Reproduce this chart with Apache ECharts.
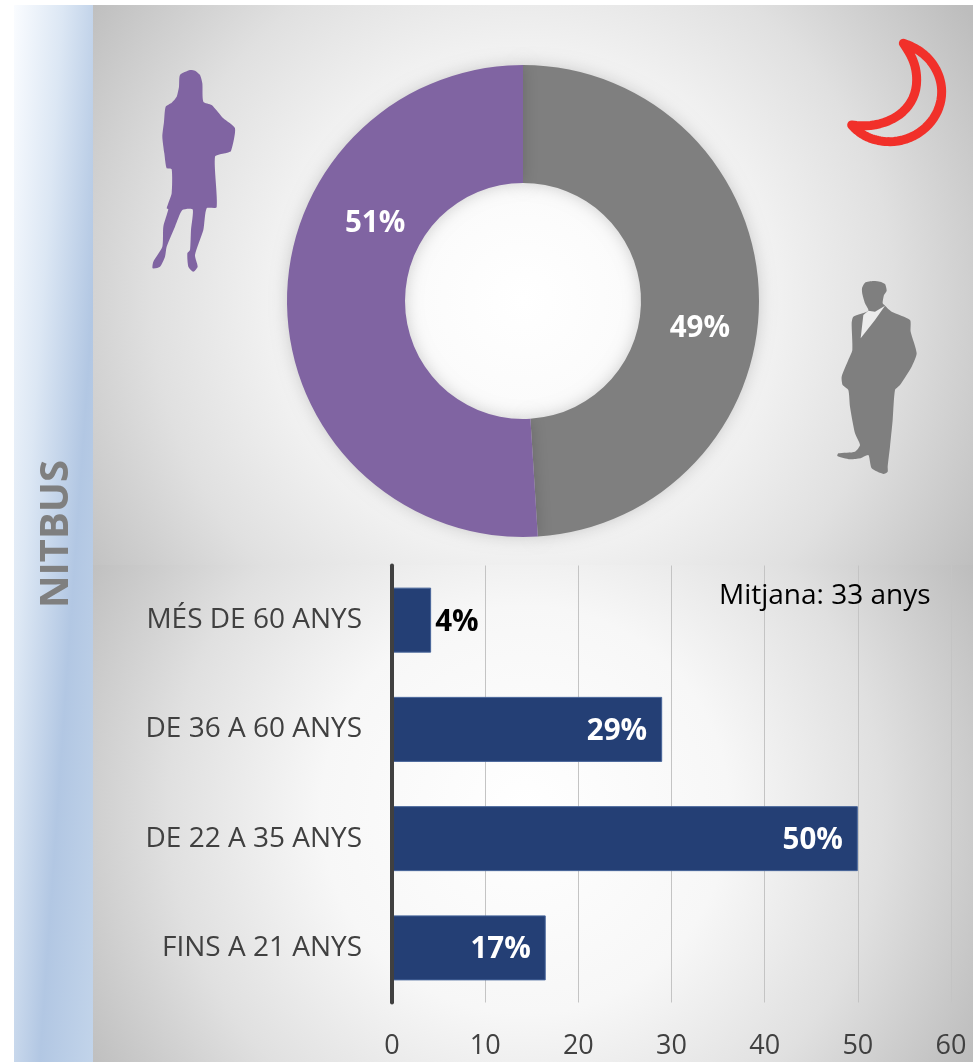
<!DOCTYPE html>
<html>
<head>
<meta charset="utf-8">
<title>NITBUS</title>
<script src="https://cdn.jsdelivr.net/npm/echarts@6/dist/echarts.min.js"></script>
<style>
html,body{margin:0;padding:0;background:#fff;}
#main{width:973px;height:1062px;}
</style>
</head>
<body>
<div id="main"></div>
<script>
var genderNames=['Homes','Dones'];
var genderValues=[49,51];
var genderColors=['#7f7f7f','#8064a2'];

var ageCategories=['MÉS DE 60 ANYS','DE 36 A 60 ANYS','DE 22 A 35 ANYS','FINS A 21 ANYS'];
var ageValues=[4.2,29,50,16.5];
var ageLabels=['4%','29%','50%','17%'];

var FONT='"Open Sans"';

//siluetes, punts llegits del zoom (3x) i passats a pixels
var WOMAN_PTS=[[180,60],[150,75],[147,110],[140,140],[125,158],[107,170],[102,215],[97,260],[103,310],[110,355],[125,358],[125,430],[110,475],[115,478],[100,530],[97,590],[70,635],[68,655],[90,650],[105,620],[110,590],[135,530],[157,480],[188,478],[183,540],[180,600],[172,610],[175,650],[190,665],[203,650],[195,615],[220,540],[230,475],[260,472],[255,320],[285,310],[303,303],[315,235],[280,205],[245,165],[220,155],[217,100],[210,75],[195,62]];
var MAN_PTS=[[160,33],[135,38],[126,55],[127,72],[135,100],[145,122],[100,140],[95,160],[97,240],[85,270],[65,320],[68,345],[85,360],[90,410],[105,490],[120,525],[105,545],[55,550],[52,558],[90,568],[120,565],[145,555],[155,595],[190,612],[203,605],[203,590],[210,530],[218,450],[225,360],[240,345],[275,290],[290,250],[272,185],[270,150],[215,125],[195,107],[188,100],[192,75],[200,62],[195,42],[180,35]];
var SHIRT_PTS=[[130,135],[122,205],[165,150],[195,107],[165,125],[145,122]];
//lluna: trams de bezier (inici, control, control, final)
var MOON_CURVES=[
    [[250,70],[330,95],[365,160],[365,215]],
    [[365,215],[365,300],[290,365],[210,365]],
    [[210,365],[160,365],[120,345],[95,315]],
    [[95,315],[190,330],[290,280],[290,180]],
    [[290,180],[290,130],[270,100],[250,70]]
];

function toPx(pts,ox,oy){
    var out=[];
    for(var i=0;i<pts.length;i++){
        out.push([pts[i][0]/3+ox,pts[i][1]/3+oy]);
    }
    return out;
}

function curvePts(curves){
    var out=[];
    for(var c=0;c<curves.length;c++){
        var p=curves[c];
        for(var k=0;k<20;k++){
            var t=k/20,u=1-t;
            out.push([
                u*u*u*p[0][0]+3*u*u*t*p[1][0]+3*u*t*t*p[2][0]+t*t*t*p[3][0],
                u*u*u*p[0][1]+3*u*u*t*p[1][1]+3*u*t*t*p[2][1]+t*t*t*p[3][1]
            ]);
        }
    }
    return out;
}

var panelStops=[{offset:0,color:'#ffffff'},{offset:0.4,color:'#f7f7f7'},{offset:0.7,color:'#e0e0e0'},{offset:1,color:'#bdbdbd'}];

var pieData=[];
for(var i=0;i<genderValues.length;i++){
    pieData.push({
        name:genderNames[i],
        value:genderValues[i],
        itemStyle:{color:genderColors[i]},
        label:{offset:i==0?[-3,33]:[32,-83]}
    });
}

var barData=[];
for(var i=0;i<ageValues.length;i++){
    var small=ageValues[i]<10;
    barData.push({
        value:ageValues[i],
        label:{
            position:small?'right':'insideRight',
            distance:small?4:15,
            offset:[0,2],
            color:small?'#000000':'#ffffff'
        }
    });
}

var chart=echarts.init(document.getElementById('main'),null,{renderer:'canvas'});
var option={
    animation:false,
    textStyle:{fontFamily:FONT},
    grid:{left:392,right:22,top:565.5,bottom:59.5,containLabel:false},
    xAxis:{
        type:'value',
        position:'bottom',
        min:0,
        max:60,
        interval:10,
        axisLine:{show:false},
        axisTick:{show:false},
        axisLabel:{color:'#404040',fontSize:27,fontFamily:FONT,margin:30,hideOverlap:false},
        splitLine:{show:true,lineStyle:{color:'#c4c4c4',width:1}}
    },
    yAxis:{
        type:'category',
        inverse:true,
        z:5,
        data:ageCategories,
        axisLine:{show:true,lineStyle:{color:'#404040',width:4}},
        axisTick:{show:false},
        axisLabel:{color:'#404040',fontSize:28,fontFamily:FONT,margin:30,padding:[6,0,0,0]}
    },
    series:[
        {
            type:'pie',
            center:[523,301],
            radius:[118,236],
            startAngle:90,
            avoidLabelOverlap:false,
            silent:true,
            itemStyle:{shadowBlur:16,shadowColor:'rgba(0,0,0,0.18)'},
            label:{
                show:true,
                position:'inside',
                formatter:'{c}%',
                color:'#ffffff',
                fontSize:29.5,
                fontWeight:'bold',
                fontFamily:FONT
            },
            labelLine:{show:false},
            data:pieData
        },
        {
            type:'bar',
            barWidth:65,
            silent:true,
            itemStyle:{color:'#243f75',borderColor:'#47659a',borderWidth:1},
            label:{
                show:true,
                fontSize:29.5,
                fontWeight:'bold',
                fontFamily:FONT,
                formatter:function(p){return ageLabels[p.dataIndex];}
            },
            data:barData
        }
    ],
    graphic:[
        //fons
        {type:'rect',z:-10,shape:{x:14,y:5,width:79,height:1057},style:{fill:new echarts.graphic.LinearGradient(14,5,166.7,15.7,[
            {offset:0,color:'#fafcff'},{offset:0.32,color:'#dce7f4'},{offset:0.65,color:'#b2c7e3'},{offset:1,color:'#c2d4ea'}
        ],true)}},
        {type:'rect',z:-10,shape:{x:93,y:5,width:880,height:560},style:{fill:new echarts.graphic.RadialGradient(523,300,530,panelStops,true)}},
        {type:'rect',z:-10,shape:{x:93,y:565,width:880,height:497},style:{fill:new echarts.graphic.RadialGradient(525,810,510,panelStops,true)}},
        //siluetes i lluna
        {type:'polygon',z:-5,shape:{points:toPx(WOMAN_PTS,130,50),smooth:0.2},style:{fill:'#8064a2'}},
        {type:'polygon',z:-5,shape:{points:toPx(MAN_PTS,820,270),smooth:0.2},style:{fill:'#7f7f7f'}},
        {type:'polygon',z:-4,shape:{points:toPx(SHIRT_PTS,820,270)},style:{fill:'#ececec'}},
        {type:'polygon',z:-5,shape:{points:toPx(curvePts(MOON_CURVES),820,20)},style:{fill:'none',stroke:'#f1302a',lineWidth:9,lineJoin:'round',lineCap:'round'}},
        //textos
        {type:'text',z:5,x:57,y:534,rotation:Math.PI/2,style:{text:'NITBUS',fill:'#7f7f7f',font:'bold 40px '+FONT,align:'center',verticalAlign:'middle'}},
        {type:'text',z:5,x:719,y:596,style:{text:'Mitjana: 33 anys',fill:'#000000',font:'28px '+FONT,align:'left',verticalAlign:'middle'}}
    ]
};
chart.setOption(option);
</script>
</body>
</html>
